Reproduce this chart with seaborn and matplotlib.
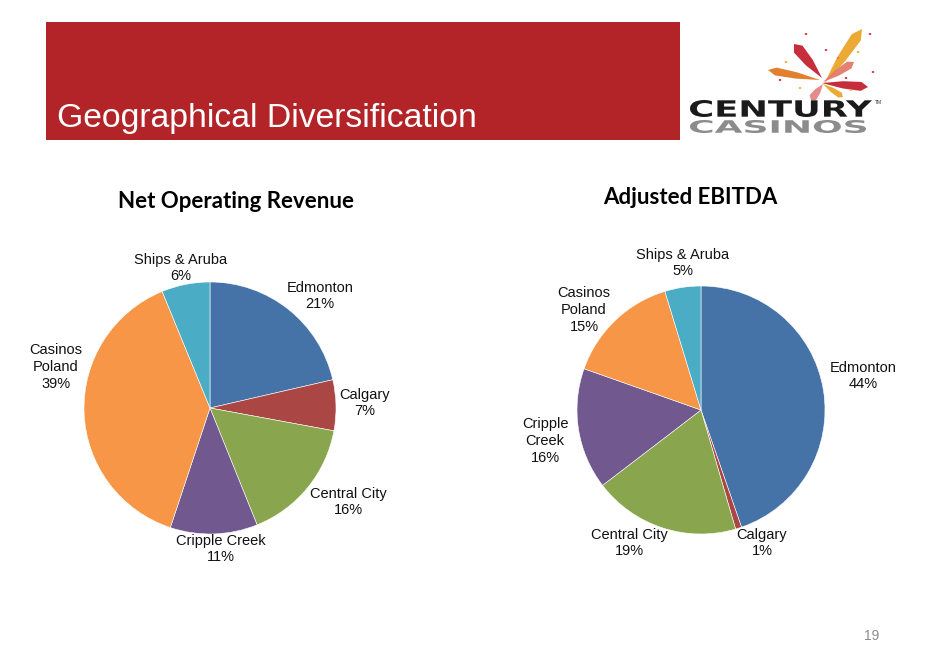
import matplotlib
matplotlib.use('Agg')
import matplotlib.pyplot as plt
import seaborn as sns
from matplotlib.patches import Rectangle, Polygon, Circle, PathPatch
from matplotlib.textpath import TextPath
from matplotlib.font_manager import FontProperties
from matplotlib.transforms import Affine2D

sns.set_theme(style='white')
plt.rcParams['font.family'] = ['Liberation Sans', 'DejaVu Sans']

# data (shares in %, clockwise from 12 o'clock)
revenue_labels = ['Edmonton', 'Calgary', 'Central City', 'Cripple Creek', 'Casinos\nPoland', 'Ships & Aruba']
revenue_share = [21.4, 6.5, 16.0, 11.2, 38.7, 6.2]
revenue_pct = ['21%', '7%', '16%', '11%', '39%', '6%']

ebitda_labels = ['Edmonton', 'Calgary', 'Central City', 'Cripple\nCreek', 'Casinos\nPoland', 'Ships & Aruba']
ebitda_share = [44.7, 0.8, 19.1, 15.8, 14.9, 4.7]
ebitda_pct = ['44%', '1%', '19%', '16%', '15%', '5%']

palette = ['#4572A7', '#AA4643', '#89A54E', '#71588F', '#F79646', '#4BACC6']

W, H = 936, 667
fig = plt.figure(figsize=(W / 100, H / 100), dpi=100)
fig.patch.set_facecolor('white')


def fx(x):
    return x / W


def fy(y):
    return 1 - y / H


# label spots in pie-radius units (Excel "best fit" placement)
revenue_label_pos = [(0.873, 0.889), (1.230, 0.040), (1.095, -0.746),
                     (0.087, -1.119), (-1.222, 0.325), (-0.230, 1.111)]
ebitda_label_pos = [(1.306, 0.274), (0.492, -1.073), (-0.581, -1.073),
                    (-1.258, -0.250), (-0.944, 0.806), (-0.145, 1.185)]


def draw_pie(cx, cy, r, share, labels, pct, label_pos, title, title_xy):
    ax = fig.add_axes([fx(cx - r), fy(cy + r), 2 * r / W, 2 * r / H])
    ax.pie(share, colors=palette, startangle=90, counterclock=False, radius=1,
           wedgeprops=dict(edgecolor='white', linewidth=0.4))
    ax.set_xlim(-1, 1)
    ax.set_ylim(-1, 1)
    ax.axis('off')
    for name, p, (lx, ly) in zip(labels, pct, label_pos):
        ax.text(lx, ly, f'{name}\n{p}', ha='center', va='center', fontsize=10.5,
                color='#111111', linespacing=1.25, clip_on=False)
    fig.text(fx(title_xy[0]), fy(title_xy[1]), title, ha='center', va='center',
             fontsize=16, fontweight='bold', family=['Lato', 'DejaVu Sans'], color='black')


draw_pie(210, 408, 126, revenue_share, revenue_labels, revenue_pct, revenue_label_pos,
         'Net Operating Revenue', (236, 201))
draw_pie(701, 410, 124, ebitda_share, ebitda_labels, ebitda_pct, ebitda_label_pos,
         'Adjusted EBITDA', (690, 198))

# red header banner
fig.add_artist(Rectangle((fx(46), fy(140)), (680 - 46) / W, (140 - 22) / H,
                         transform=fig.transFigure, facecolor='#B22427', edgecolor='none'))
fig.text(fx(57), fy(127), 'Geographical Diversification', color='white', fontsize=24.3,
         va='baseline', ha='left')


# logo: wordmark
def logo_word(text, x0, x1, ytop, ybot, color):
    tp = TextPath((0, 0), text, size=1, prop=FontProperties(family='DejaVu Sans', weight='bold'))
    ext = tp.get_extents()
    sx = (x1 - x0) / ext.width / W
    sy = (ybot - ytop) / ext.height / H
    tr = Affine2D().translate(-ext.x0, -ext.y0).scale(sx, sy).translate(fx(x0), fy(ybot)) + fig.transFigure
    fig.add_artist(PathPatch(tp, transform=tr, facecolor=color, edgecolor='none'))


logo_word('CENTURY', 690, 872, 100, 117, '#1A1A1A')
logo_word('CASINOS', 690, 866, 120, 133, '#8C8C8C')
fig.text(fx(875), fy(102), 'TM', fontsize=3.5, color='#333333', ha='left', va='center')

# logo: firework strokes (start, end, width, colour) in slide pixels
strokes = [((824, 84), (862, 29), 11, '#E9A62A'),
           ((822, 78), (794, 44), 11, '#C42230'),
           ((820, 80), (768, 70), 8, '#E07A22'),
           ((823, 82), (854, 62), 8, '#E47A68'),
           ((822, 83), (868, 87), 9, '#C42230'),
           ((823, 84), (843, 97), 6, '#E9A62A'),
           ((823, 84), (811, 100), 8, '#E58585')]
for (x0, y0), (x1, y1), w, c in strokes:
    dx, dy = x1 - x0, y1 - y0
    length = (dx ** 2 + dy ** 2) ** 0.5
    px, py = -dy / length * w / 2, dx / length * w / 2
    pts = [(x0, y0),
           (x0 + 0.45 * dx + px * 0.8, y0 + 0.45 * dy + py * 0.8),
           (x0 + 0.85 * dx + px, y0 + 0.85 * dy + py),
           (x1, y1),
           (x0 + 0.85 * dx - px, y0 + 0.85 * dy - py),
           (x0 + 0.45 * dx - px * 0.8, y0 + 0.45 * dy - py * 0.8)]
    fig.add_artist(Polygon([(fx(a), fy(b)) for a, b in pts], closed=True,
                           transform=fig.transFigure, facecolor=c, edgecolor='none', alpha=0.95))

dots = [((806, 34), '#C42230'), ((870, 34), '#C42230'), ((826, 50), '#C42230'),
        ((786, 62), '#E9A62A'), ((858, 52), '#E9A62A'), ((873, 72), '#C42230'),
        ((838, 58), '#E47A68'), ((800, 88), '#E9A62A'), ((846, 78), '#C42230'),
        ((851, 90), '#E9A62A'), ((780, 80), '#C42230')]
for (x, y), c in dots:
    fig.add_artist(Circle((fx(x), fy(y)), 1.3 / W, transform=fig.transFigure,
                          facecolor=c, edgecolor='none'))

# slide number
fig.text(fx(872), fy(636), '19', color='#8C8C8C', fontsize=10, ha='center', va='center')

fig.savefig('out.png', dpi=100)
